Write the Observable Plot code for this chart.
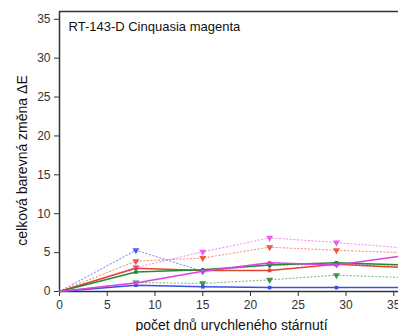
<!DOCTYPE html>
<html><head><meta charset="utf-8">
<script src="https://cdn.jsdelivr.net/npm/d3@7"></script>
<script src="https://cdn.jsdelivr.net/npm/@observablehq/plot@0.6"></script>
<style>html,body{margin:0;padding:0;overflow:hidden;background:#fff;} svg{max-width:none !important;}</style>
</head><body><div id="chart"></div>
<script>
const days = [0, 8, 15, 22, 29, 36];
const blueSolid = [0, 0.8, 0.6, 0.5, 0.5, 0.5];
const redSolid = [0, 3.0, 2.7, 2.7, 3.5, 3.1];
const greenSolid = [0, 2.5, 2.8, 3.4, 3.7, 3.4];
const magentaSolid = [0, 1.1, 2.6, 3.7, 3.4, 4.6];
const blueDotted = [0, 5.3, 2.6, 3.4, 3.5, 3.4];
const redDotted = [0, 3.9, 4.3, 5.7, 5.3, 5.0];
const greenDotted = [0, 1.15, 1.05, 1.5, 2.1, 1.8];
const magentaDotted = [0, 3.1, 5.1, 6.9, 6.3, 5.6];
const title = "RT-143-D Cinquasia magenta";
const xLabel = "počet dnů urychleného stárnutí";
const yLabel = "celková barevná změna ΔE";
const xTicks = [0, 5, 10, 15, 20, 25, 30, 35, 40];
const yTicks = [0, 5, 10, 15, 20, 25, 30, 35];

const series = [
  {name: "blueSolid", vals: blueSolid, color: "#3a4ee6", dotted: false},
  {name: "redSolid", vals: redSolid, color: "#e2452b", dotted: false},
  {name: "greenSolid", vals: greenSolid, color: "#268a32", dotted: false},
  {name: "magentaSolid", vals: magentaSolid, color: "#e040e0", dotted: false},
  {name: "blueDotted", vals: blueDotted, color: "#4a5cf0", dotted: true},
  {name: "redDotted", vals: redDotted, color: "#ee5a3a", dotted: true},
  {name: "greenDotted", vals: greenDotted, color: "#3a9a44", dotted: true},
  {name: "magentaDotted", vals: magentaDotted, color: "#ee5cee", dotted: true}
];
const rows = series.flatMap(s => s.vals.map((v, i) => ({day: days[i], val: v, name: s.name, color: s.color, dotted: s.dotted})));
const solidRows = rows.filter(d => !d.dotted);
const dottedRows = rows.filter(d => d.dotted);

const chart = Plot.plot({
  width: 441, height: 331,
  marginLeft: 59, marginRight: 0, marginTop: 11, marginBottom: 40,
  style: {fontFamily: "'Liberation Sans', Arial, sans-serif", fontSize: "12px", color: "#333", background: "#fff", maxWidth: "none"},
  x: {domain: [0, 40], ticks: xTicks, tickSize: 5, label: null},
  y: {domain: [0, 36], ticks: yTicks, tickSize: 5, label: null},
  marks: [
    Plot.ruleY([36], {stroke: "#333", strokeWidth: 1.5}),
    Plot.ruleX([0], {stroke: "#333", strokeWidth: 1.5}),
    Plot.ruleY([0], {stroke: "#333", strokeWidth: 1.5}),
    Plot.line(dottedRows, {x: "day", y: "val", z: "name", stroke: "color", strokeWidth: 1.1, strokeDasharray: "1.2,2.4", strokeOpacity: 0.65}),
    Plot.line(solidRows, {x: "day", y: "val", z: "name", stroke: "color", strokeWidth: 1.5}),
    Plot.dot(dottedRows.filter(d => d.day > 0), {x: "day", y: "val", fill: "color", symbol: "triangle", r: 2.6, rotate: 180}),
    Plot.dot(solidRows.filter(d => d.day > 0), {x: "day", y: "val", fill: "color", symbol: "square", r: 2}),
    Plot.text([title], {frameAnchor: "top-left", dx: 9, dy: 10, fontSize: 13, fill: "#111", textAnchor: "start"}),
    Plot.text([yLabel], {frameAnchor: "left", rotate: -90, dx: -37, dy: 9, fontSize: 14, fill: "#111", textAnchor: "middle"}),
    Plot.text([xLabel], {frameAnchor: "bottom", dx: -19, dy: 38, fontSize: 14, fill: "#111", textAnchor: "middle"})
  ]
});
document.getElementById("chart").appendChild(chart);
</script></body></html>
